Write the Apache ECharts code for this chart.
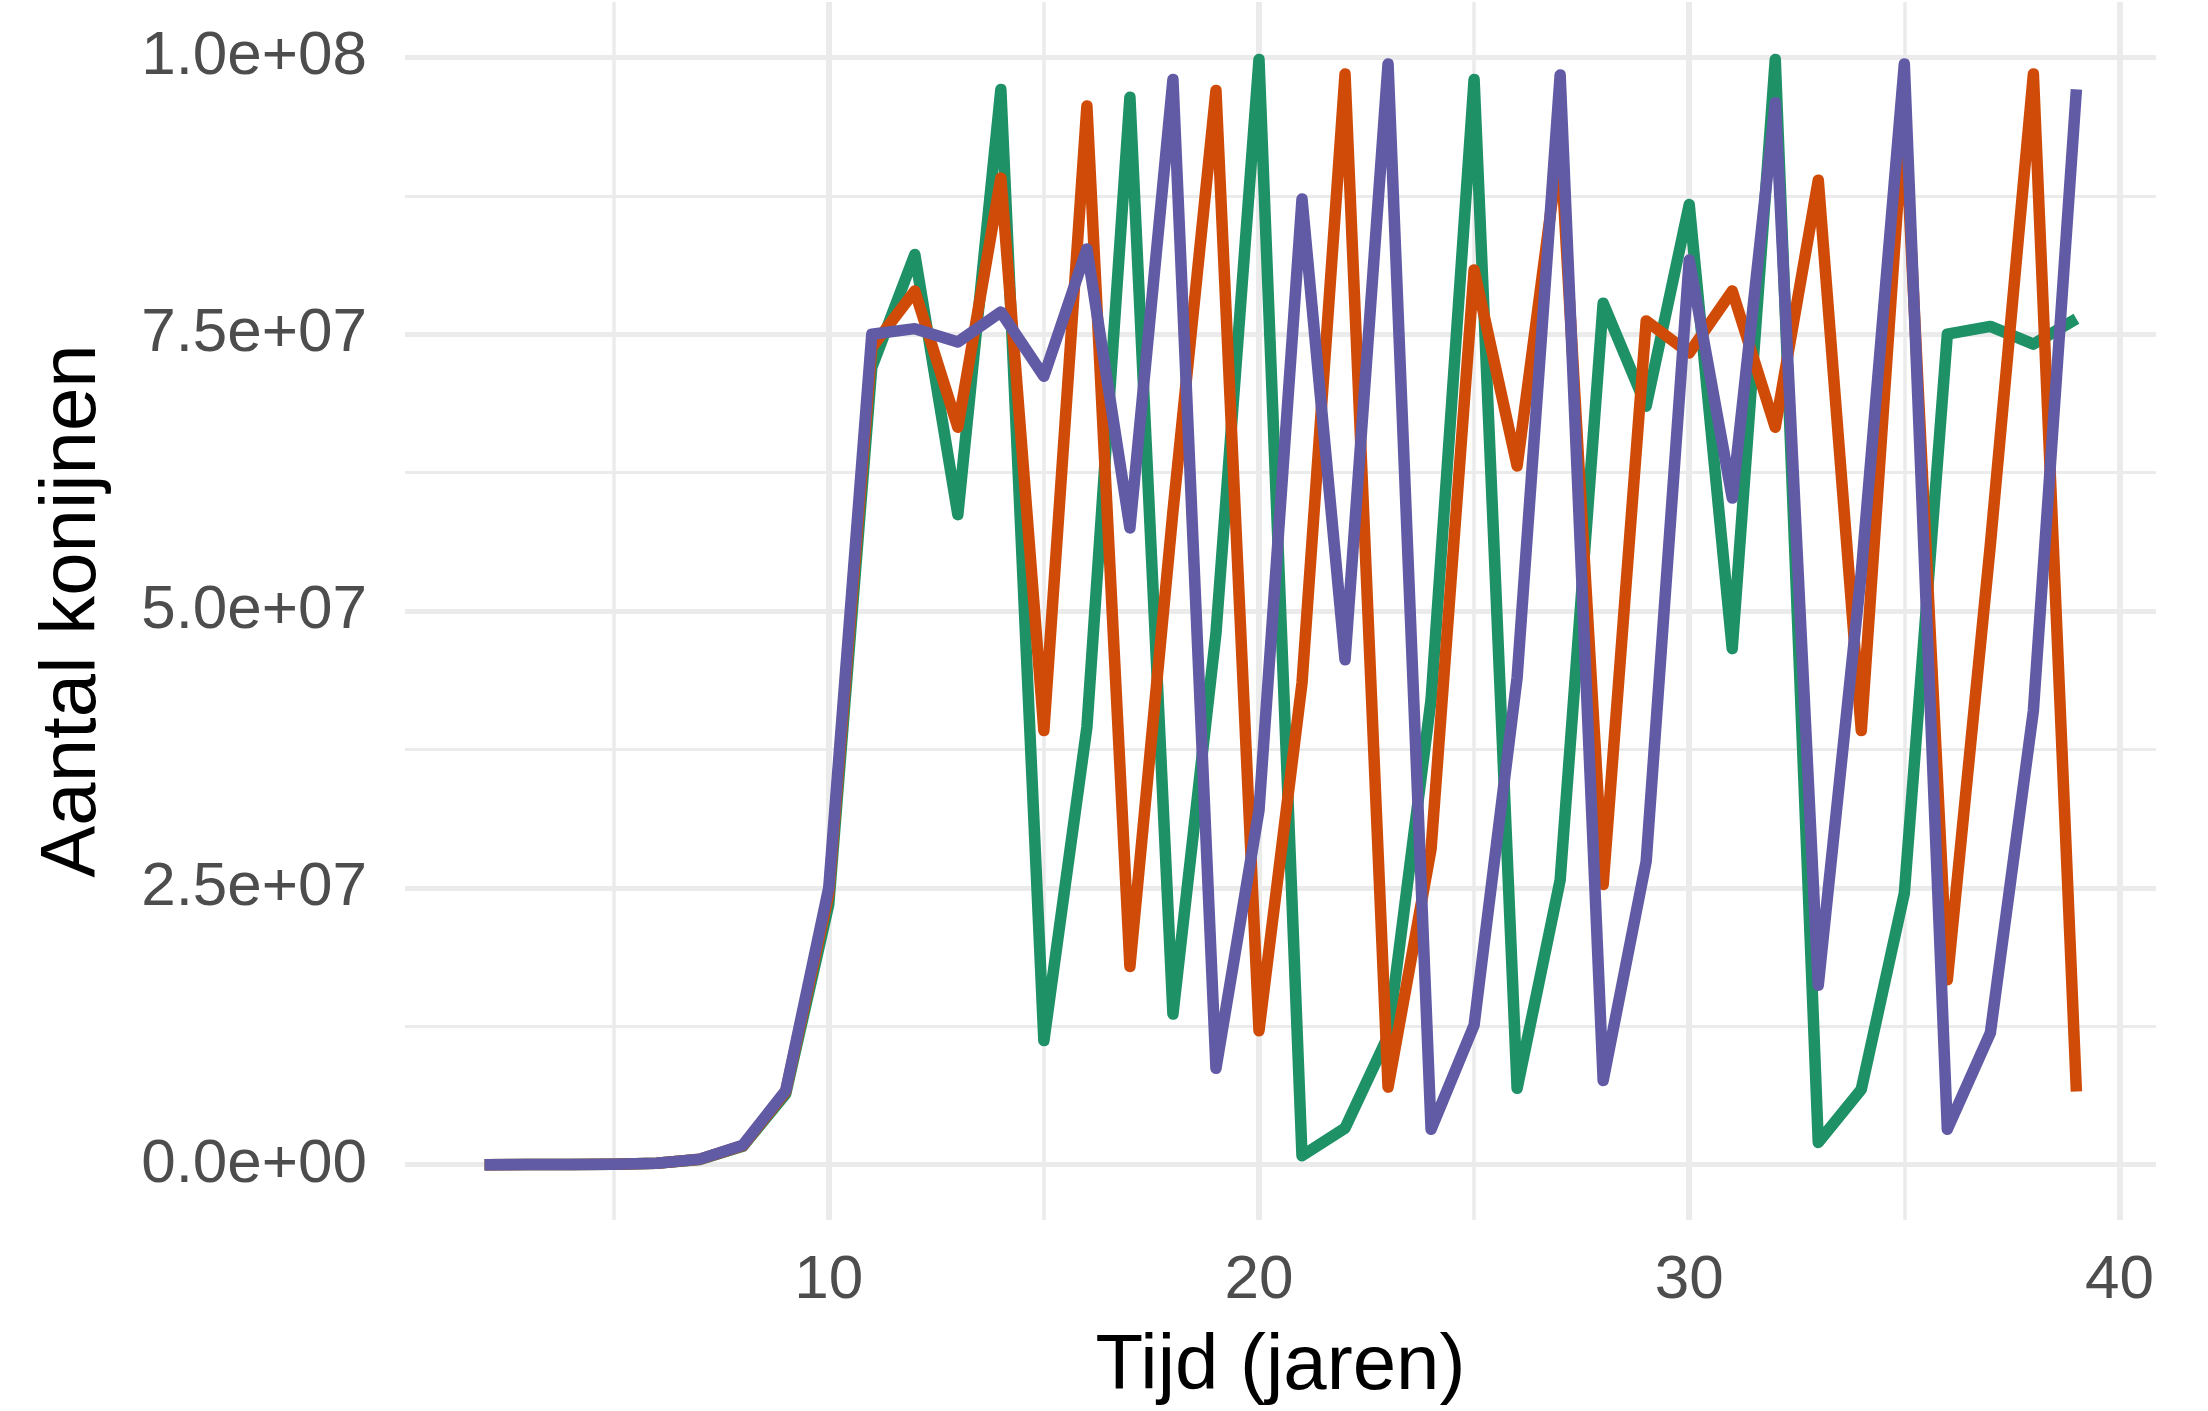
<!DOCTYPE html>
<html>
<head>
<meta charset="utf-8">
<script src="https://cdn.jsdelivr.net/npm/echarts@6/dist/echarts.min.js"></script>
<style>
  html, body { margin: 0; padding: 0; background: #fff; }
  #konijnen { width: 2208px; height: 1411px; }
</style>
</head>
<body>
<div id="konijnen"></div>
<script>
// jaren 2..39
var jaren = [2,3,4,5,6,7,8,9,10,11,12,13,14,15,16,17,18,19,20,
             21,22,23,24,25,26,27,28,29,30,31,32,33,34,35,36,37,38,39];

var groen = [0.0005e6,0.002e6,0.008e6,0.03e6,0.12e6,0.47e6,1.65e6,6.4e6,23.5e6,
             72.0e6,82.2e6,58.7e6,97.1e6,11.2e6,39.5e6,96.4e6,13.6e6,48.0e6,99.8e6,
             0.8e6,3.3e6,11.6e6,42.0e6,98.0e6,6.9e6,25.7e6,77.8e6,68.5e6,86.7e6,
             46.6e6,99.8e6,2.0e6,6.8e6,24.5e6,75.0e6,75.7e6,74.1e6,76.4e6];
var oranje = [0.0005e6,0.002e6,0.008e6,0.03e6,0.12e6,0.49e6,1.7e6,6.6e6,24.4e6,
              73.8e6,78.9e6,66.6e6,89.1e6,39.2e6,95.6e6,17.9e6,59.0e6,97.0e6,12.1e6,
              43.5e6,98.5e6,7.0e6,28.5e6,80.8e6,63.1e6,92.5e6,25.3e6,76.2e6,73.3e6,
              78.9e6,66.6e6,88.9e6,39.2e6,95.5e6,16.7e6,56.0e6,98.5e6,6.6e6];
var paars = [0.0005e6,0.002e6,0.008e6,0.03e6,0.12e6,0.5e6,1.75e6,6.7e6,25.0e6,
             75.0e6,75.5e6,74.3e6,77.0e6,71.2e6,82.7e6,57.5e6,98.0e6,8.7e6,32.0e6,
             87.2e6,45.6e6,99.4e6,3.2e6,12.6e6,44.0e6,98.4e6,7.6e6,27.4e6,81.7e6,
             60.2e6,95.9e6,16.2e6,53.5e6,99.4e6,3.2e6,11.9e6,41.0e6,97.1e6];

// assen
var xMajor = [10, 20, 30, 40];
var xMinor = [5, 15, 25, 35];
var yMajor = [0, 2.5e7, 5e7, 7.5e7, 1e8];
var yMinor = [1.25e7, 3.75e7, 6.25e7, 8.75e7];

var kleuren = ['#1E9167', '#D04B08', '#615BA6'];

function paren(ys) {
    var out = [];
    for (var i = 0; i < jaren.length; i++) {
        out.push([jaren[i], ys[i]]);
    }
    return out;
}

// 1.0e+08 notatie zoals R
function wetenschappelijk(v) {
    if (v === 0) return '0.0e+00';
    var e = Math.floor(Math.log10(Math.abs(v)) + 1e-9);
    var m = v / Math.pow(10, e);
    var es = (e < 10 ? '0' : '') + e;
    return m.toFixed(1) + 'e+' + es;
}

var myChart = echarts.init(document.getElementById('konijnen'));

var gridKleur = '#EBEBEB';
var font = '"Liberation Sans", Arial, sans-serif';

function lijn(naam, ys, kleur) {
    return {
        name: naam,
        type: 'line',
        xAxisIndex: 0,
        yAxisIndex: 0,
        data: paren(ys),
        showSymbol: false,
        symbol: 'none',
        lineStyle: { color: kleur, width: 11.5, join: 'round', cap: 'butt' },
        emphasis: { disabled: true },
        animation: false
    };
}

var option = {
    backgroundColor: '#fff',
    animation: false,
    grid: { left: 405, right: 52, top: 2, bottom: 189 },
    xAxis: [{
        type: 'value',
        min: 0.15, max: 40.85,
        axisLine: { show: false },
        axisTick: { show: false, customValues: xMajor },
        axisLabel: {
            customValues: xMajor,
            fontSize: 62, color: '#4D4D4D', margin: 30, fontFamily: font
        },
        splitLine: { show: true, lineStyle: { color: gridKleur, width: 6 } },
        name: 'Tijd (jaren)',
        nameLocation: 'middle',
        nameGap: 108,
        nameTextStyle: { fontSize: 78, color: '#000', fontFamily: font }
    }, {
        type: 'value',
        min: 0.15, max: 40.85,
        position: 'bottom',
        axisLine: { show: false },
        axisTick: { show: false, customValues: xMinor },
        axisLabel: { show: false, customValues: xMinor },
        splitLine: { show: true, lineStyle: { color: gridKleur, width: 3.5 } }
    }],
    yAxis: [{
        type: 'value',
        min: -5e6, max: 1.05e8,
        axisLine: { show: false },
        axisTick: { show: false, customValues: yMajor },
        axisLabel: {
            customValues: yMajor,
            formatter: wetenschappelijk,
            fontSize: 62, color: '#4D4D4D', margin: 38, fontFamily: font
        },
        splitLine: { show: true, lineStyle: { color: gridKleur, width: 5 } },
        name: 'Aantal konijnen',
        nameLocation: 'middle',
        nameGap: 293,
        nameRotate: 90,
        nameTextStyle: { fontSize: 78, color: '#000', fontFamily: font }
    }, {
        type: 'value',
        min: -5e6, max: 1.05e8,
        position: 'left',
        axisLine: { show: false },
        axisTick: { show: false, customValues: yMinor },
        axisLabel: { show: false, customValues: yMinor },
        splitLine: { show: true, lineStyle: { color: gridKleur, width: 3 } }
    }],
    series: [
        lijn('groen', groen, kleuren[0]),
        lijn('oranje', oranje, kleuren[1]),
        lijn('paars', paars, kleuren[2])
    ]
};

myChart.setOption(option);
</script>
</body>
</html>
